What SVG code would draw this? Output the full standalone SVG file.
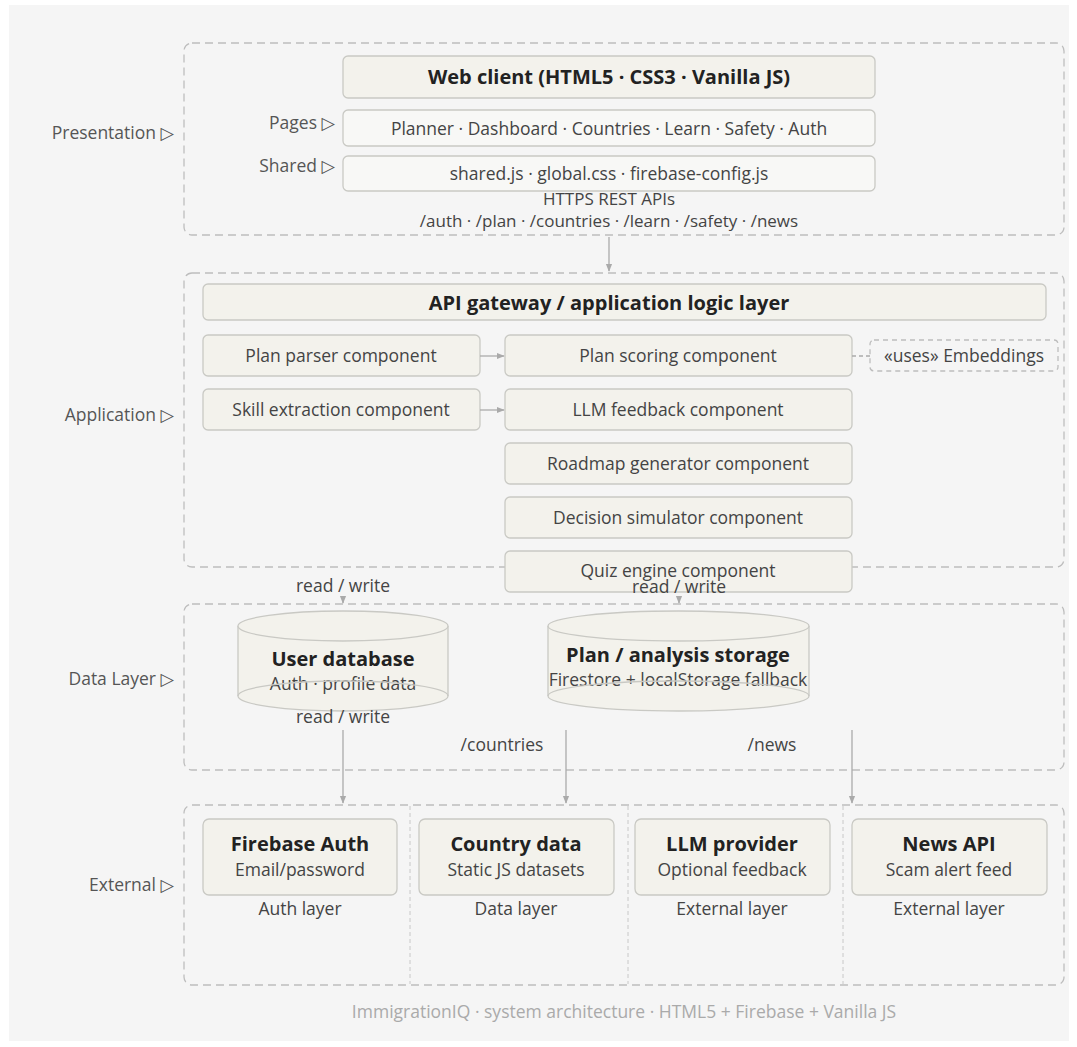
<svg xmlns="http://www.w3.org/2000/svg" width="1077" height="1047" viewBox="0 0 1077 1047">
<defs>
<style>
text{font-family:"Open Sans","Noto Sans","DejaVu Sans",sans-serif;}
.grp{fill:none;stroke:#bdbdbd;stroke-width:1.3;stroke-dasharray:8 5;}
.node{fill:#f3f2ec;stroke:#c9c9c4;stroke-width:1.3;}
.light{fill:#f8f8f6;stroke:#c9c9c4;stroke-width:1.3;}
.t{font-size:17.5px;fill:#444;text-anchor:middle;}
.b{font-size:20px;font-weight:700;fill:#222;text-anchor:middle;}
.lbl{font-size:17.5px;fill:#555;text-anchor:end;}
.conn{stroke:#aaa;stroke-width:1.3;fill:none;}
.div{stroke:#c8c8c8;stroke-width:1;stroke-dasharray:4 3;}
</style>
<marker id="ah" viewBox="0 0 10 10" refX="9" refY="5" markerWidth="6" markerHeight="6" orient="auto"><path d="M0,1 L10,5 L0,9 z" fill="#aaa"/></marker>
</defs>
<rect x="0" y="0" width="1077" height="1047" fill="#ffffff"/>
<rect x="9" y="5" width="1060" height="1036" fill="#f5f5f5"/>

<g id="groups">
<rect class="grp" x="184" y="43" width="880" height="192" rx="8"/>
<rect class="grp" x="184" y="273" width="880" height="294" rx="8"/>
<rect class="grp" x="184" y="604" width="880" height="166" rx="8"/>
<rect class="grp" x="184" y="805" width="880" height="180" rx="8"/>
<line class="div" x1="410" y1="806" x2="410" y2="984"/>
<line class="div" x1="628" y1="806" x2="628" y2="984"/>
<line class="div" x1="843" y1="806" x2="843" y2="984"/>
<text class="lbl" x="174" y="139">Presentation ▷</text>
<text class="lbl" x="174" y="421">Application ▷</text>
<text class="lbl" x="174" y="685">Data Layer ▷</text>
<text class="lbl" x="174" y="891">External ▷</text>
</g>

<g id="webclient"><rect class="node" x="343" y="56" width="532" height="42" rx="5"/><text class="b" x="609" y="84">Web client (HTML5 · CSS3 · Vanilla JS)</text></g>
<g id="pages"><text class="lbl" x="335" y="129">Pages ▷</text><rect class="light" x="343" y="110" width="532" height="36" rx="5"/><text class="t" x="609" y="135">Planner · Dashboard · Countries · Learn · Safety · Auth</text></g>
<g id="shared"><text class="lbl" x="335" y="172">Shared ▷</text><rect class="light" x="343" y="156" width="532" height="35" rx="5"/><text class="t" x="609" y="180">shared.js · global.css · firebase-config.js</text></g>
<g id="api-label"><text class="t" x="609" y="205" style="font-size:17px">HTTPS REST APIs</text><text class="t" x="609" y="227" style="font-size:17px">/auth · /plan · /countries · /learn · /safety · /news</text></g>

<g id="gateway"><rect class="node" x="203" y="284" width="843" height="36" rx="5"/><text class="b" x="609" y="310">API gateway / application logic layer</text></g>
<g id="parser"><rect class="node" x="203" y="335" width="277" height="41" rx="5"/><text class="t" x="341" y="362">Plan parser component</text></g>
<g id="scoring"><rect class="node" x="505" y="335" width="347" height="41" rx="5"/><text class="t" x="678" y="362">Plan scoring component</text></g>
<g id="embeddings"><rect class="grp" x="870" y="340" width="188" height="31" rx="4" style="stroke-dasharray:5 4"/><text class="t" x="964" y="362">«uses» Embeddings</text></g>
<g id="skill"><rect class="node" x="203" y="389" width="277" height="41" rx="5"/><text class="t" x="341" y="416">Skill extraction component</text></g>
<g id="llmfb"><rect class="node" x="505" y="389" width="347" height="41" rx="5"/><text class="t" x="678" y="416">LLM feedback component</text></g>
<g id="roadmap"><rect class="node" x="505" y="443" width="347" height="41" rx="5"/><text class="t" x="678" y="470">Roadmap generator component</text></g>
<g id="decision"><rect class="node" x="505" y="497" width="347" height="41" rx="5"/><text class="t" x="678" y="524">Decision simulator component</text></g>
<g id="quiz"><rect class="node" x="505" y="551" width="347" height="41" rx="5"/><text class="t" x="678" y="577">Quiz engine component</text></g>

<g id="userdb">
<path class="node" d="M238,626 L238,696 A105,15 0 0 0 448,696 L448,626"/>
<ellipse class="node" cx="343" cy="626" rx="105" ry="15"/>
<text class="b" x="343" y="666">User database</text>
<text class="t" x="343" y="690">Auth · profile data</text>
<path class="conn" style="stroke:#c9c9c4" d="M238,696 A105,15 0 0 1 448,696"/>
</g>
<g id="planstore">
<path class="node" d="M548,626 L548,696 A130.5,15 0 0 0 809,696 L809,626"/>
<ellipse class="node" cx="678.5" cy="626" rx="130.5" ry="15"/>
<text class="b" x="678" y="662">Plan / analysis storage</text>
<text class="t" x="678" y="686">Firestore + localStorage fallback</text>
<path class="conn" style="stroke:#c9c9c4" d="M548,696 A130.5,15 0 0 1 809,696"/>
</g>

<g id="fbauth"><rect class="node" x="203" y="819" width="194" height="76" rx="6"/><text class="b" x="300" y="851">Firebase Auth</text><text class="t" x="300" y="876">Email/password</text><text class="t" x="300" y="915">Auth layer</text></g>
<g id="country"><rect class="node" x="419" y="819" width="195" height="76" rx="6"/><text class="b" x="516" y="851">Country data</text><text class="t" x="516" y="876">Static JS datasets</text><text class="t" x="516" y="915">Data layer</text></g>
<g id="llmprov"><rect class="node" x="635" y="819" width="195" height="76" rx="6"/><text class="b" x="732" y="851">LLM provider</text><text class="t" x="732" y="876">Optional feedback</text><text class="t" x="732" y="915">External layer</text></g>
<g id="newsapi"><rect class="node" x="852" y="819" width="195" height="76" rx="6"/><text class="b" x="949" y="851">News API</text><text class="t" x="949" y="876">Scam alert feed</text><text class="t" x="949" y="915">External layer</text></g>

<g id="connectors">
<line class="conn" x1="609" y1="237" x2="609" y2="271" marker-end="url(#ah)"/>
<line class="conn" x1="480" y1="356" x2="504" y2="356" marker-end="url(#ah)"/>
<line class="conn" x1="480" y1="410" x2="504" y2="410" marker-end="url(#ah)"/>
<line class="conn" x1="852" y1="356" x2="870" y2="356" style="stroke-dasharray:4 3"/>
<text class="t" x="343" y="592">read / write</text>
<text class="t" x="679" y="593">read / write</text>
<line class="conn" x1="343" y1="597" x2="343" y2="603" marker-end="url(#ah)"/>
<line class="conn" x1="679" y1="597" x2="679" y2="603" marker-end="url(#ah)"/>
<text class="t" x="343" y="723">read / write</text>
<text class="t" x="502" y="751">/countries</text>
<text class="t" x="772" y="751">/news</text>
<line class="conn" x1="343" y1="730" x2="343" y2="803" marker-end="url(#ah)"/>
<line class="conn" x1="566" y1="730" x2="566" y2="803" marker-end="url(#ah)"/>
<line class="conn" x1="852" y1="730" x2="852" y2="803" marker-end="url(#ah)"/>
</g>

<text x="624" y="1018" style="font-size:17.5px;fill:#aaa;text-anchor:middle">ImmigrationIQ · system architecture · HTML5 + Firebase + Vanilla JS</text>
</svg>
